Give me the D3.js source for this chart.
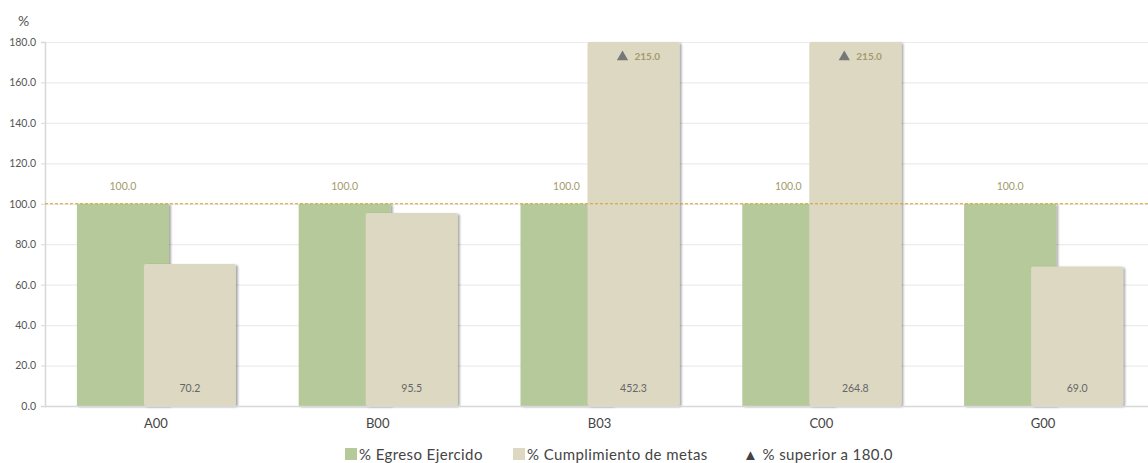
<!DOCTYPE html>
<html><head><meta charset="utf-8">
<script src="https://cdn.jsdelivr.net/npm/d3@7"></script>
<style>body{margin:0;background:#fff;font-family:Lato,"Open Sans",sans-serif;}</style>
</head><body><svg id="c" width="1148" height="463"></svg>
<script>
const categories = ["A00","B00","B03","C00","G00"];
const egreso = [100.0,100.0,100.0,100.0,100.0];
const metas = [70.2,95.5,452.3,264.8,69.0];
const overLabels = ["","","215.0","215.0",""];
const yTicks = [0,20,40,60,80,100,120,140,160,180];
const yMax = 180, refLine = 100;
const legendItems = ["% Egreso Ejercido","% Cumplimiento de metas","% superior a 180.0"];

const svg = d3.select("#c");
const W=1148,H=463;
const m={l:45,r:-6,t:42,b:57};
const x = d3.scaleBand().domain(categories).range([m.l, W-m.r]).padding(0);
const y = d3.scaleLinear().domain([0,yMax]).range([H-m.b, m.t]);
const defs = svg.append("defs");
const f = defs.append("filter").attr("id","sh").attr("x","-10%").attr("y","-10%").attr("width","130%").attr("height","130%");
f.append("feDropShadow").attr("dx",2).attr("dy",1).attr("stdDeviation",1.2).attr("flood-color","#000").attr("flood-opacity",0.35);

// grid
svg.append("g").selectAll("line").data(yTicks).join("line")
 .attr("x1",m.l).attr("x2",W).attr("y1",d=>y(d)+0.5).attr("y2",d=>y(d)+0.5)
 .attr("stroke","#ececec").attr("stroke-width",1.2);
// y axis
const ya = svg.append("g").attr("transform",`translate(${m.l},0)`)
 .call(d3.axisLeft(y).tickValues(yTicks).tickFormat(d3.format(".1f")).tickSize(4));
ya.select(".domain").attr("stroke","#d8d8d8").attr("stroke-width",1.5);
ya.selectAll(".tick line").attr("stroke","#d8d8d8");
ya.selectAll("text").attr("font-family","Lato").attr("font-size",10.5).attr("fill","#555").attr("x",-9);
svg.append("text").attr("x",18).attr("y",26).attr("font-family","Lato").attr("font-size",14).attr("fill","#555").text("%");

const bw=92, off=33;
const gx = c => x(c)+x.bandwidth()/2;
// green bars
svg.append("g").selectAll("rect").data(categories).join("rect")
 .attr("x",(c)=>gx(c)-off-bw/2).attr("width",bw)
 .attr("y",(c,i)=>y(Math.min(egreso[i],yMax))).attr("height",(c,i)=>y(0)-y(Math.min(egreso[i],yMax)))
 .attr("fill","#b5c99a").attr("filter","url(#sh)");
// beige bars
svg.append("g").selectAll("rect").data(categories).join("rect")
 .attr("x",(c)=>gx(c)+off-bw/2+1).attr("width",bw).attr("rx",2)
 .attr("y",(c,i)=>y(Math.min(metas[i],yMax))).attr("height",(c,i)=>y(0)-y(Math.min(metas[i],yMax)))
 .attr("fill","#ddd8c2").attr("filter","url(#sh)");
// x axis line
svg.append("line").attr("x1",m.l).attr("x2",W).attr("y1",y(0)+0.5).attr("y2",y(0)+0.5).attr("stroke","#d8d8d8").attr("stroke-width",1.5);
// reference line
svg.append("line").attr("x1",m.l).attr("x2",W).attr("y1",y(refLine)).attr("y2",y(refLine))
 .attr("stroke","#d4a020").attr("stroke-width",1).attr("stroke-dasharray","3,2");
// labels
svg.append("g").selectAll("text").data(categories).join("text")
 .attr("x",c=>gx(c)-off).attr("y",(c,i)=>y(egreso[i])-14).attr("text-anchor","middle")
 .attr("font-family","Lato").attr("font-size",10.5).attr("fill","#a39b6a").text((c,i)=>d3.format(".1f")(egreso[i]));
svg.append("g").selectAll("text").data(categories).join("text")
 .attr("x",c=>gx(c)+off+1).attr("y",y(0)-14).attr("text-anchor","middle")
 .attr("font-family","Lato").attr("font-size",10.5).attr("fill","#666").text((c,i)=>d3.format(".1f")(metas[i]));
// over markers
const ov = categories.map((c,i)=>({c,i})).filter(d=>metas[d.i]>yMax);
const og = svg.append("g").selectAll("g").data(ov).join("g");
og.append("path").attr("d",d3.symbol(d3.symbolTriangle,55)())
 .attr("transform",d=>`translate(${gx(d.c)+off-10},${y(yMax)+15})`).attr("fill","#777");
og.append("text").attr("x",d=>gx(d.c)+off+2).attr("y",y(yMax)+18).attr("font-family","Lato").attr("font-weight","bold")
 .attr("font-size",10).attr("fill","#a39b6a").text(d=>overLabels[d.i]);
// x labels
svg.append("g").selectAll("text").data(categories).join("text")
 .attr("x",c=>gx(c)).attr("y",y(0)+22).attr("text-anchor","middle")
 .attr("font-family","Lato").attr("font-size",13).attr("fill","#444").text(c=>c);
// legend
const lg = svg.append("g").attr("font-family","Lato").attr("font-size",15).attr("letter-spacing",0.4).attr("fill","#444");
lg.append("rect").attr("x",345).attr("y",448).attr("width",12).attr("height",12).attr("fill","#b5c99a");
lg.append("text").attr("x",359).attr("y",460).text(legendItems[0]);
lg.append("rect").attr("x",513).attr("y",448).attr("width",12).attr("height",12).attr("fill","#ddd8c2");
lg.append("text").attr("x",527).attr("y",460).text(legendItems[1]);
lg.append("text").attr("x",743).attr("y",460).text("▲ "+legendItems[2]);
</script></body></html>
